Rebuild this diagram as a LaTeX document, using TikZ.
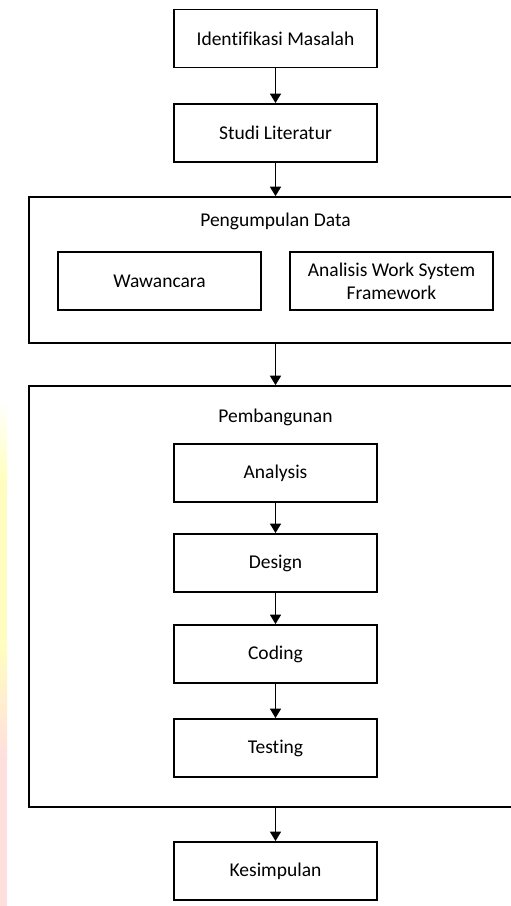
\documentclass[tikz,border=0pt]{standalone}
\usepackage{fontspec}
\setmainfont{Carlito}[Ligatures=CommonOff]
\usetikzlibrary{arrows.meta}
\begin{document}
\begin{tikzpicture}[x=1pt,y=1pt,
  box/.style={draw=black,line width=1.9pt,fill=white,minimum width=203pt,minimum height=58pt,inner sep=0pt,align=center,font=\fontsize{19.5}{22.7}\selectfont},
  outer/.style={draw=black,line width=1.7pt,minimum width=485pt,inner sep=0pt},
  lbl/.style={font=\fontsize{19.5}{22.7}\selectfont,inner sep=0pt},
  arr/.style={line width=1.7pt,-{Triangle[width=11pt,length=9.5pt]}}]
\useasboundingbox (0,0) rectangle (511,-906);
\fill[white] (0,0) rectangle (511,-906);
\clip (0,0) rectangle (511,-906);
% faint watermark strip on the left edge
\shade[top color=white,bottom color=yellow!25] (0,-400) rectangle (7,-480);
\fill[yellow!25] (0,-480) rectangle (7,-640);
\shade[top color=yellow!25,bottom color=red!13] (0,-640) rectangle (7,-760);
\fill[red!13] (0,-760) rectangle (7,-906);

\node[box] (ident) at (275.5,-38.5) {Identifikasi Masalah};
\node[box] (studi) at (275.5,-133) {Studi Literatur};
\node[outer,minimum height=146pt] (pd) at (271.5,-270) {};
\node[lbl] (pdl) at (275.5,-221) {Pengumpulan Data};
\node[box] (waw) at (159.5,-281) {Wawancara};
\node[box] (aws) at (391.5,-281) {Analisis Work System\\Framework};
\node[outer,minimum height=421pt] (pb) at (271.5,-596.5) {};
\node[lbl] (pbl) at (275.5,-417) {Pembangunan};
\node[box] (ana) at (275.5,-473) {Analysis};
\node[box] (des) at (275.5,-563) {Design};
\node[box] (cod) at (275.5,-654) {Coding};
\node[box] (tes) at (275.5,-748) {Testing};
\node[box] (kes) at (275.5,-871) {Kesimpulan};

\draw[arr] (ident.south) -- (studi.north);
\draw[arr] (studi.south) -- (studi.south |- pd.north);
\draw[arr] (studi.south |- pd.south) -- (studi.south |- pb.north);
\draw[arr] (ana.south) -- (des.north);
\draw[arr] (des.south) -- (cod.north);
\draw[arr] (cod.south) -- (tes.north);
\draw[arr] (kes.north |- pb.south) -- (kes.north);
\end{tikzpicture}
\end{document}
